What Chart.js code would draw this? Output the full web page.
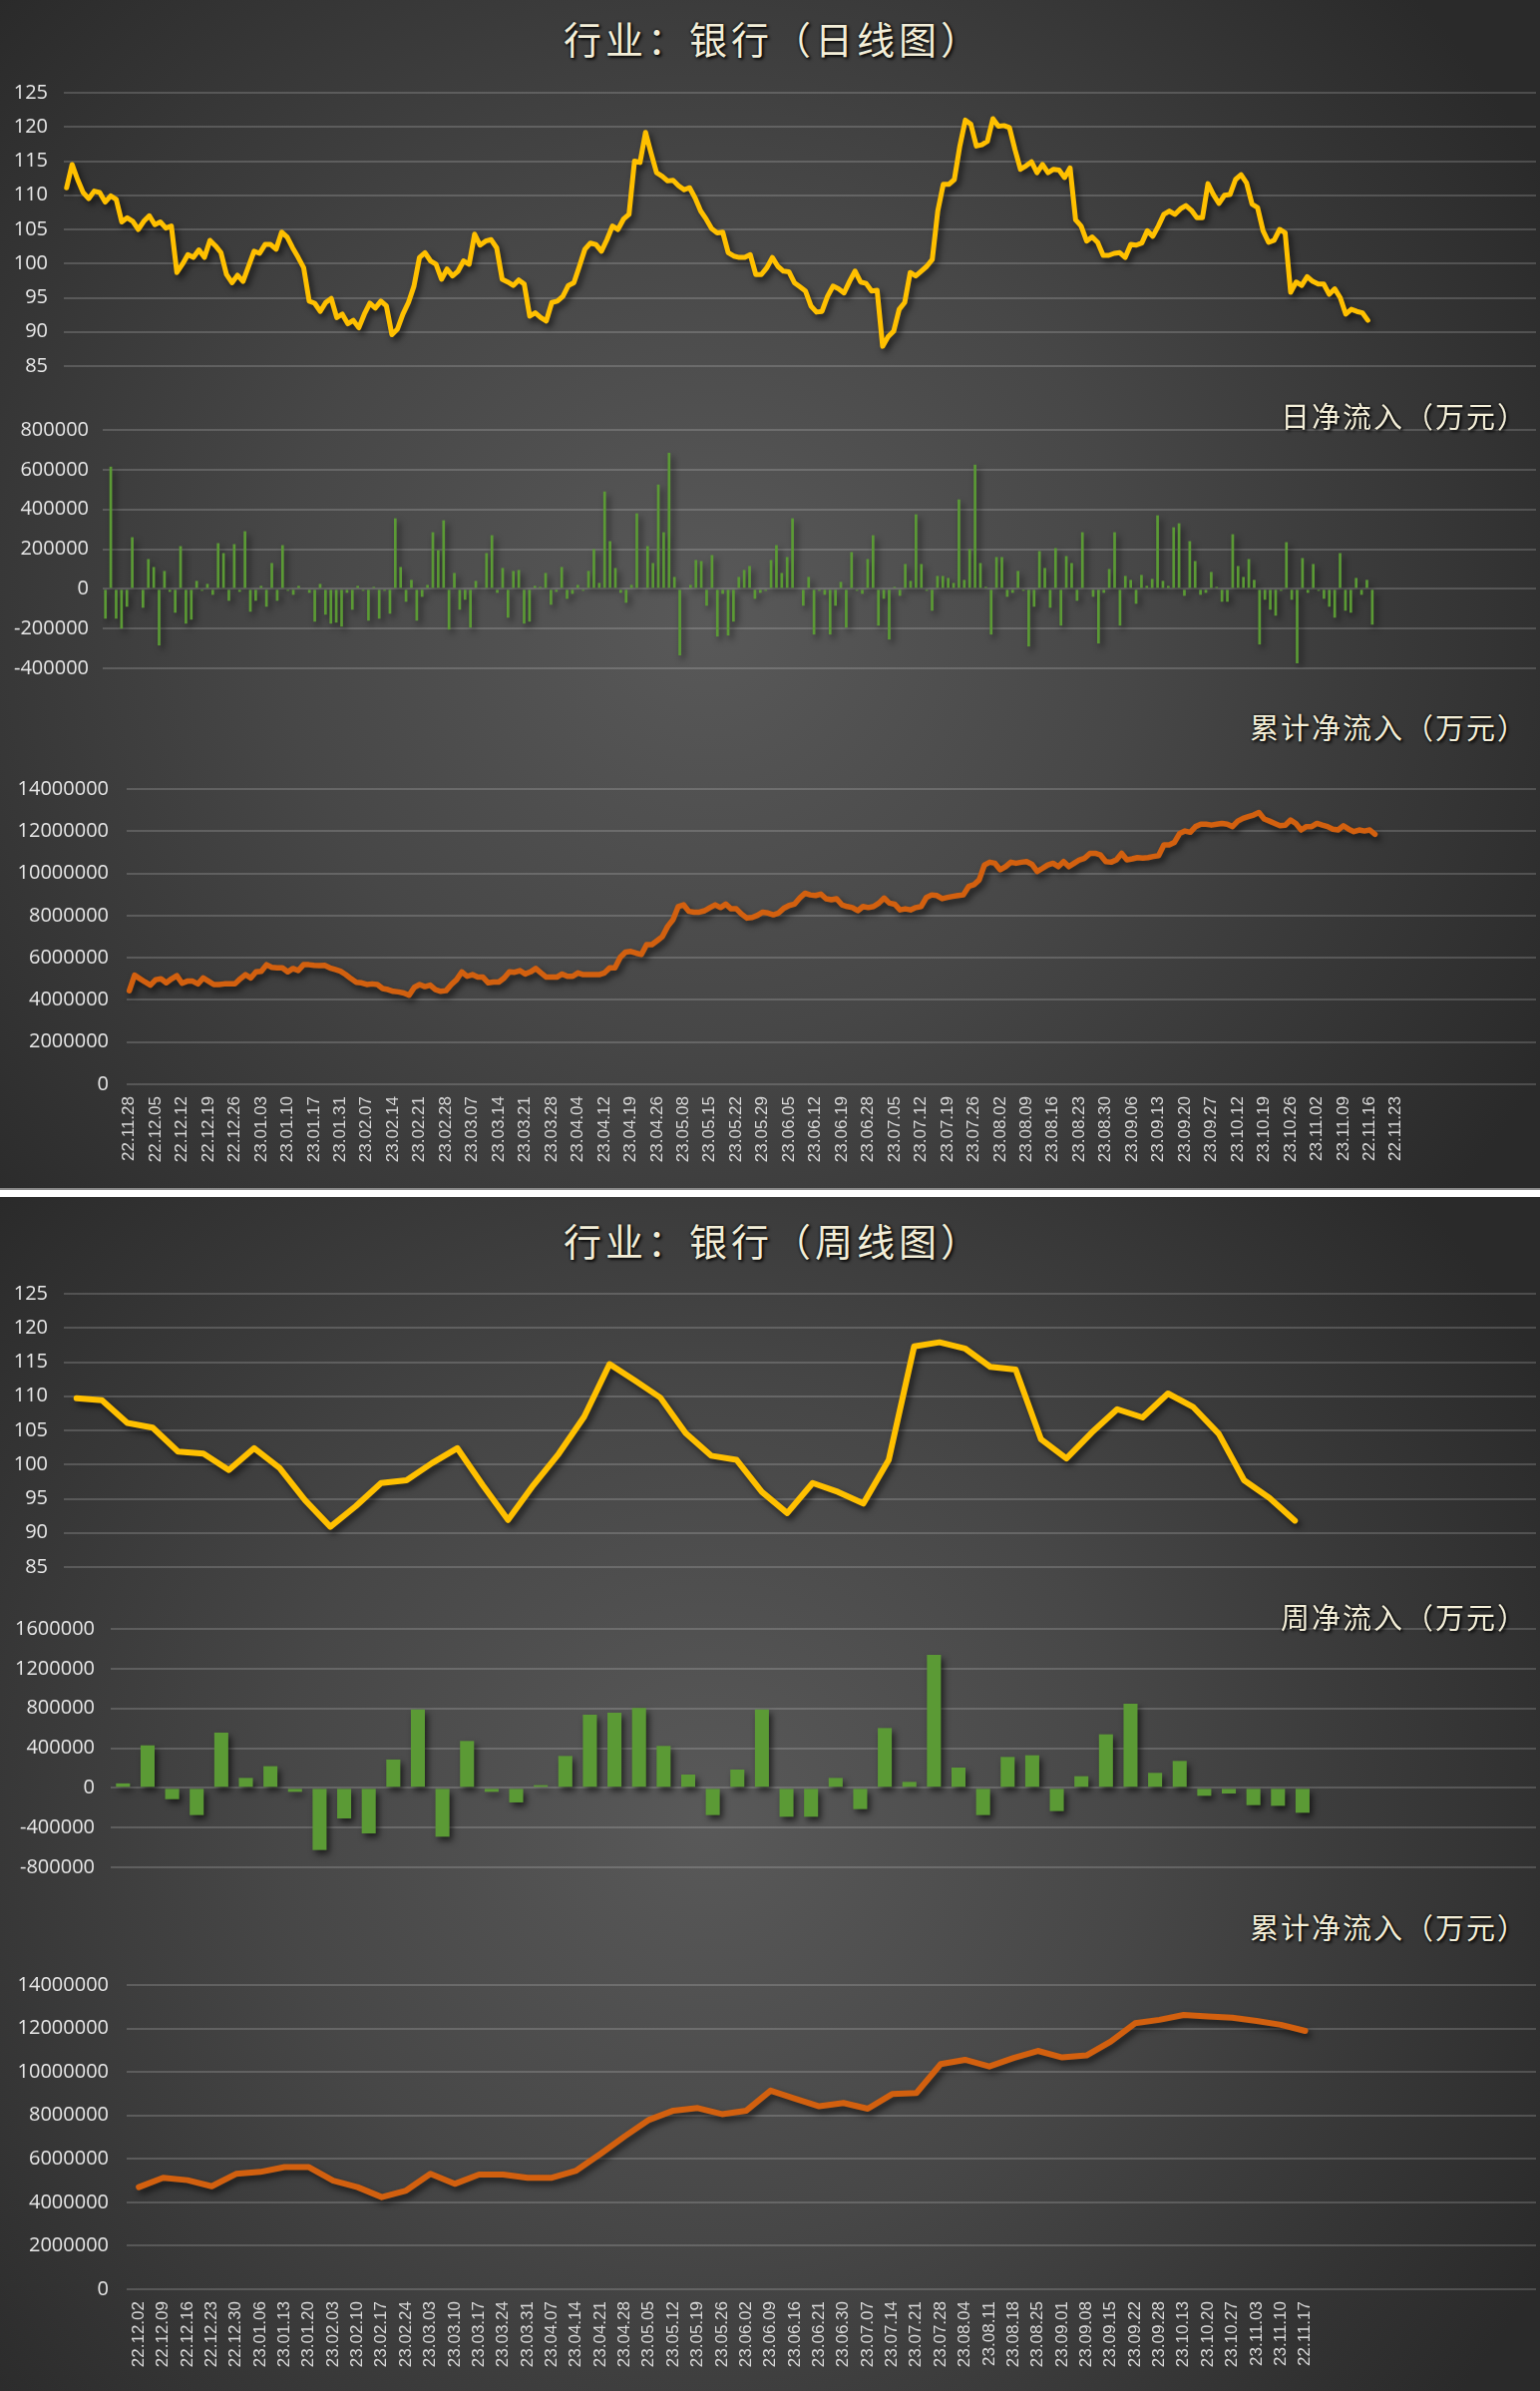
<!DOCTYPE html>
<html>
<head>
<meta charset="utf-8">
<script src="https://cdn.jsdelivr.net/npm/chart.js@4.4.1/dist/chart.umd.min.js"></script>
<style>
  html, body { margin: 0; padding: 0; background: #fff; }
  #page { position: relative; width: 1544px; height: 2397px; overflow: hidden; background: #fff; }
  .panel {
    position: absolute; left: 0; width: 1544px;
    background: radial-gradient(ellipse 62% 78% at 46% 52%, #595959 0%, #474747 45%, #2a2a2a 100%);
  }
  #panel1 { top: 0; height: 1191px; border-bottom: 2px solid #8a8a8a; }
  #panel2 { top: 1200px; height: 1197px; }
  canvas { position: absolute; left: 0; }
  .title, .sub {
    position: absolute; color: #f3eed8; font-family: "Noto Sans CJK SC", sans-serif; font-weight: 400;
    text-shadow: 0 0 3px #000, 2px 2px 3px rgba(0,0,0,0.8); white-space: nowrap; z-index: 5;
  }
  .title { left: 10px; width: 1530px; text-align: center; font-size: 38px; letter-spacing: 4px; line-height: 40px; }
  .sub { right: 12px; font-size: 29px; letter-spacing: 2px; line-height: 30px; }
</style>
</head>
<body>
<div id="page">
  <div class="panel" id="panel1"></div>
  <div class="panel" id="panel2"></div>

  <div class="title" style="top:18px;">行业：银行（日线图）</div>
  <div class="sub" style="top:401px;">日净流入（万元）</div>
  <div class="sub" style="top:713px;">累计净流入（万元）</div>

  <div class="title" style="top:1223px;">行业：银行（周线图）</div>
  <div class="sub" style="top:1605px;">周净流入（万元）</div>
  <div class="sub" style="top:1916px;">累计净流入（万元）</div>

  <canvas id="dayPrice" width="1544" height="314" style="top:73px"></canvas>
  <canvas id="dayFlow" width="1544" height="279" style="top:411px"></canvas>
  <canvas id="dayCum" width="1544" height="406" style="top:771px"></canvas>

  <canvas id="weekPrice" width="1544" height="314" style="top:1277px"></canvas>
  <canvas id="weekFlow" width="1544" height="279" style="top:1613px"></canvas>
  <canvas id="weekCum" width="1544" height="415" style="top:1970px"></canvas>
</div>

<script>
// ---- daily data ----
var dailyTicks = ["22.11.28","22.12.05","22.12.12","22.12.19","22.12.26","23.01.03","23.01.10","23.01.17",
  "23.01.31","23.02.07","23.02.14","23.02.21","23.02.28","23.03.07","23.03.14","23.03.21","23.03.28",
  "23.04.04","23.04.12","23.04.19","23.04.26","23.05.08","23.05.15","23.05.22","23.05.29","23.06.05",
  "23.06.12","23.06.19","23.06.28","23.07.05","23.07.12","23.07.19","23.07.26","23.08.02","23.08.09",
  "23.08.16","23.08.23","23.08.30","23.09.06","23.09.13","23.09.20","23.09.27","23.10.12","23.10.19",
  "23.10.26","23.11.02","23.11.09","22.11.16","22.11.23"];

var dailyPrice = [
  111.1,114.5,112.3,110.4,109.5,110.6,110.4,109.0,109.9,109.4,
  106.1,106.7,106.2,105.0,106.2,107.0,105.7,106.1,105.2,105.5,
  98.7,99.9,101.3,100.9,102.0,100.9,103.4,102.6,101.6,98.4,
  97.2,98.3,97.4,99.6,101.8,101.5,102.8,102.8,102.1,104.6,
  103.9,102.3,100.9,99.4,94.5,94.2,93.0,94.3,94.9,92.1,
  92.6,91.2,91.7,90.6,92.6,94.2,93.5,94.5,93.8,89.6,
  90.4,92.6,94.3,96.7,100.9,101.6,100.4,99.9,97.7,99.2,
  98.2,98.9,100.4,99.9,104.3,102.7,103.3,103.5,102.3,97.7,
  97.3,96.8,97.6,97.0,92.3,92.8,92.1,91.6,94.3,94.5,
  95.2,96.8,97.2,99.6,102.1,103.0,102.8,101.8,103.5,105.5,
  105.0,106.5,107.2,115.0,114.8,119.2,116.2,113.3,112.8,112.1,
  112.2,111.4,110.8,111.1,109.6,107.7,106.5,105.1,104.5,104.6,
  101.6,101.1,100.9,100.9,101.3,98.4,98.4,99.4,
  100.9,99.6,98.9,98.8,97.2,96.6,96.0,93.8,92.9,93.0,
  95.2,96.7,96.3,95.7,97.4,98.9,97.3,97.1,96.0,96.1,
  87.9,89.3,90.1,93.3,94.3,98.7,98.2,98.9,99.6,100.6,
  107.7,111.6,111.6,112.3,117.2,121.0,120.4,117.2,117.4,117.9,
  121.2,120.1,120.2,119.9,116.7,113.8,114.3,114.9,113.3,114.5,
  113.3,113.8,113.7,112.6,114.0,106.4,105.5,103.3,103.9,103.1,
  101.2,101.2,101.5,101.6,100.9,102.8,102.7,103.0,104.8,104.0,
  105.5,107.2,107.7,107.2,108.0,108.5,107.8,106.7,106.7,111.7,
  110.1,108.8,110.0,110.1,112.3,113.0,111.8,108.7,108.2,104.8,
  103.1,103.4,105.0,104.5,95.8,97.3,96.8,98.1,97.4,97.0,
  97.0,95.5,96.3,95.0,92.6,93.3,93.0,92.8,91.7
];

var dailyFlow = [
  -150000,615000,-150000,-200000,-90000,260000,5000,-95000,150000,110000,
  -285000,90000,-15000,-120000,215000,-175000,-155000,40000,-10000,25000,
  -30000,230000,180000,-60000,225000,-15000,290000,-115000,-60000,15000,
  -90000,130000,-60000,220000,-10000,-30000,15000,5000,-20000,-165000,
  25000,-130000,-175000,-170000,-190000,-20000,-105000,15000,-10000,-160000,
  10000,-150000,-10000,-125000,355000,110000,-65000,45000,-160000,-40000,
  20000,285000,195000,345000,-205000,80000,-105000,-55000,-195000,40000,
  5000,180000,270000,-20000,105000,-145000,90000,95000,-175000,-165000,
  15000,10000,80000,-80000,-15000,110000,-50000,-25000,20000,-10000,
  90000,200000,30000,490000,240000,105000,-20000,-70000,20000,380000,
  5000,215000,130000,525000,285000,685000,60000,-335000,-5000,20000,
  145000,140000,-85000,170000,-240000,-25000,-235000,-165000,60000,95000,
  115000,-50000,-20000,-10000,145000,
  220000,80000,160000,355000,-5000,-85000,60000,-230000,-10000,-30000,
  -230000,-85000,35000,-195000,185000,-10000,-25000,150000,270000,-185000,
  -50000,-255000,10000,-35000,125000,40000,375000,125000,-10000,-110000,
  65000,65000,55000,30000,450000,45000,200000,625000,130000,10000,
  -230000,160000,160000,-40000,-20000,90000,-10000,-290000,-90000,190000,
  105000,-95000,205000,-185000,165000,130000,-60000,285000,5000,-40000,
  -275000,-20000,100000,285000,-185000,65000,45000,-75000,70000,15000,
  50000,370000,40000,15000,310000,330000,-35000,240000,140000,-30000,
  -20000,85000,10000,-65000,-65000,275000,115000,60000,150000,45000,
  -280000,-55000,-105000,-135000,-10000,235000,-55000,-375000,155000,-20000,
  125000,-10000,-50000,-90000,-145000,180000,-110000,-120000,55000,-30000,
  45000,-180000
];

var dailyCum = [
  4440000,5170000,5010000,4850000,4700000,4960000,5000000,4810000,5000000,5150000,
  4790000,4890000,4890000,4760000,5040000,4890000,4730000,4730000,4760000,4760000,
  4760000,5000000,5200000,5040000,5330000,5360000,5670000,5550000,5520000,5520000,
  5330000,5490000,5390000,5670000,5670000,5640000,5630000,5640000,5520000,5440000,
  5360000,5200000,5010000,4840000,4810000,4730000,4760000,4730000,4540000,4490000,
  4410000,4380000,4330000,4220000,4600000,4730000,4630000,4700000,4490000,4410000,
  4440000,4730000,4960000,5330000,5120000,5200000,5080000,5080000,4810000,4850000,
  4850000,5040000,5330000,5310000,5390000,5230000,5330000,5490000,5280000,5080000,
  5080000,5080000,5230000,5120000,5120000,5280000,5200000,5200000,5200000,5200000,
  5280000,5520000,5520000,6020000,6270000,6300000,6220000,6150000,6620000,6620000,
  6810000,7010000,7490000,7800000,8430000,8510000,8200000,8160000,8160000,8230000,
  8380000,8510000,8380000,8540000,8320000,8320000,8070000,7880000,7910000,8010000,
  8160000,8120000,
  8040000,8120000,8350000,8480000,8540000,8830000,9060000,8980000,8950000,9020000,
  8800000,8750000,8800000,8510000,8430000,8380000,8230000,8430000,8380000,8430000,
  8590000,8830000,8590000,8540000,8270000,8320000,8270000,8380000,8430000,8860000,
  8980000,8950000,8800000,8860000,8910000,8950000,8980000,9380000,9460000,9690000,
  10400000,10530000,10480000,10170000,10320000,10530000,10480000,10530000,10560000,10430000,
  10090000,10240000,10400000,10480000,10320000,10560000,10320000,10480000,10640000,10720000,
  10950000,10950000,10870000,10560000,10530000,10640000,10950000,10640000,10690000,10750000,
  10720000,10750000,10800000,10840000,11350000,11350000,11470000,11900000,12010000,11950000,
  12220000,12330000,12330000,12290000,12330000,12370000,12330000,12220000,12480000,12610000,
  12690000,12770000,12890000,12580000,12480000,12370000,12260000,12290000,12530000,12370000,
  12060000,12220000,12220000,12370000,12290000,12220000,12100000,12060000,12260000,12100000,
  11980000,12060000,12010000,12060000,11850000
];

// ---- weekly data ----
var weeklyTicks = ["22.12.02","22.12.09","22.12.16","22.12.23","22.12.30","23.01.06","23.01.13","23.01.20",
  "23.02.03","23.02.10","23.02.17","23.02.24","23.03.03","23.03.10","23.03.17","23.03.24","23.03.31",
  "23.04.07","23.04.14","23.04.21","23.04.28","23.05.05","23.05.12","23.05.19","23.05.26","23.06.02",
  "23.06.09","23.06.16","23.06.21","23.06.30","23.07.07","23.07.14","23.07.21","23.07.28","23.08.04",
  "23.08.11","23.08.18","23.08.25","23.09.01","23.09.08","23.09.15","23.09.22","23.09.28","23.10.13",
  "23.10.20","23.10.27","23.11.03","23.11.10","22.11.17"];

var weeklyPrice = [109.7,109.4,106.1,105.4,101.9,101.6,99.2,102.4,99.5,94.8,
  90.9,93.9,97.3,97.7,100.2,102.4,97.0,91.9,97.0,101.6,
  107.0,114.7,112.3,109.8,104.6,101.3,100.7,96.0,92.9,97.3,
  96.0,94.3,100.7,117.3,117.9,117.0,114.3,113.9,103.7,100.9,
  104.7,108.1,106.9,110.4,108.4,104.5,97.7,95.1,91.8];

var weeklyFlow = [45000,428000,-114000,-274000,556000,100000,218000,-40000,-626000,-308000,
  -459000,285000,790000,-492000,472000,-40000,-147000,27000,321000,736000,
  756000,803000,422000,134000,-274000,184000,790000,-291000,-291000,100000,
  -214000,602000,60000,1339000,204000,-274000,311000,328000,-234000,117000,
  539000,847000,151000,271000,-80000,-57000,-174000,-181000,-251000];

var weeklyCum = [4700000,5130000,5020000,4740000,5310000,5400000,5620000,5620000,5000000,4700000,
  4240000,4540000,5310000,4850000,5280000,5280000,5130000,5130000,5460000,6230000,
  7040000,7800000,8220000,8340000,8060000,8220000,9140000,8770000,8420000,8570000,
  8310000,8980000,9030000,10360000,10560000,10250000,10640000,10970000,10670000,10760000,
  11400000,12240000,12400000,12620000,12550000,12500000,12350000,12170000,11890000];

// category slots: the x axis runs past the data (empty rows in the sheet)
var DAILY_SLOTS = 267;
var WEEKLY_SLOTS = 58;

var dailyCats = [];
for (var i = 0; i < DAILY_SLOTS; i++) {
  dailyCats.push(i % 5 == 0 && dailyTicks[i / 5] ? dailyTicks[i / 5] : "");
}
var weeklyCats = [];
for (var j = 0; j < WEEKLY_SLOTS; j++) {
  weeklyCats.push(weeklyTicks[j] || "");
}

var GOLD = "#FFC000";
var GREEN = "#5B9A35";
var ORANGE = "#D2600F";
var GRID = "rgba(255,255,255,0.17)";

var shadowPlugin = {
  id: "shadow",
  beforeDatasetsDraw: function(chart) {
    var ctx = chart.ctx;
    ctx.save();
    ctx.shadowColor = "rgba(0,0,0,0.6)";
    ctx.shadowBlur = 6;
    ctx.shadowOffsetX = 3;
    ctx.shadowOffsetY = 4;
  },
  afterDatasetsDraw: function(chart) {
    chart.ctx.restore();
  }
};

function makeChart(id, type, cats, dataset, y, showX) {
  var config = {
    type: type,
    data: { labels: cats, datasets: [dataset] },
    plugins: [shadowPlugin],
    options: {
      responsive: false,
      animation: false,
      layout: { padding: { top: 20, bottom: showX ? 0 : 20, left: 0, right: 4 } },
      plugins: { legend: { display: false }, tooltip: { enabled: false } },
      scales: {
        x: {
          display: showX,
          offset: true,
          grid: { display: false, drawTicks: false },
          border: { display: false },
          ticks: {
            autoSkip: false, minRotation: 90, maxRotation: 90, padding: 12,
            color: "#dadada", font: { family: "Liberation Sans", size: 17 }
          },
          afterFit: function(s) {
            if (!showX) return;
            s.height = 90;
            s.paddingLeft = 0;
            s.paddingRight = 0;
          }
        },
        y: {
          min: y.min, max: y.max,
          grid: { color: GRID, lineWidth: 2, drawTicks: false },
          border: { display: false },
          ticks: {
            stepSize: y.step, padding: y.pad, color: "#e8e8e8", autoSkip: false,
            font: { family: "Open Sans", size: 20 },
            callback: function(v) { return String(v); }
          },
          afterFit: function(s) {
            s.width = y.width;
            s.paddingTop = 0;
            s.paddingBottom = 0;
          }
        }
      }
    }
  };
  return new Chart(document.getElementById(id), config);
}

function lineSet(values, color, width) {
  return {
    data: values, borderColor: color, borderWidth: width, pointRadius: 0,
    tension: 0, fill: false, borderJoinStyle: "round", borderCapStyle: "round"
  };
}

function barSet(values, pct) {
  return {
    data: values, backgroundColor: GREEN, borderWidth: 0,
    barPercentage: pct, categoryPercentage: 1.0
  };
}

// daily panel
makeChart("dayPrice", "line", dailyCats, lineSet(dailyPrice, GOLD, 5),
  { min: 85, max: 125, step: 5, pad: 16, width: 64 }, false);
makeChart("dayFlow", "bar", dailyCats, barSet(dailyFlow, 0.5),
  { min: -400000, max: 800000, step: 200000, pad: 14, width: 103 }, false);
makeChart("dayCum", "line", dailyCats, lineSet(dailyCum, ORANGE, 5.5),
  { min: 0, max: 14000000, step: 2000000, pad: 18, width: 127 }, true);

// weekly panel
makeChart("weekPrice", "line", weeklyCats, lineSet(weeklyPrice, GOLD, 6),
  { min: 85, max: 125, step: 5, pad: 16, width: 64 }, false);
makeChart("weekFlow", "bar", weeklyCats, barSet(weeklyFlow, 0.57),
  { min: -800000, max: 1600000, step: 400000, pad: 16, width: 111 }, false);
makeChart("weekCum", "line", weeklyCats, lineSet(weeklyCum, ORANGE, 6),
  { min: 0, max: 14000000, step: 2000000, pad: 18, width: 127 }, true);
</script>
</body>
</html>
